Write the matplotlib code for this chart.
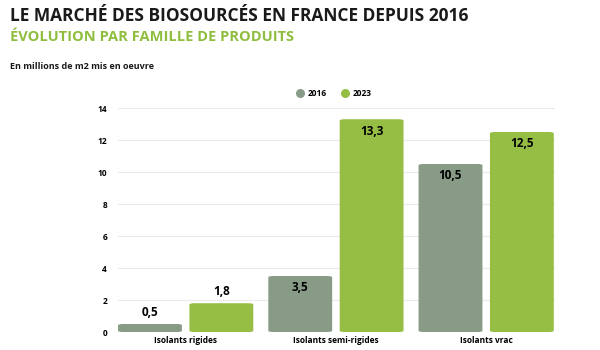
import matplotlib
matplotlib.use("Agg")
import matplotlib.pyplot as plt
from matplotlib.patches import FancyBboxPatch
from matplotlib.lines import Line2D
import numpy as np

categories = ["Isolants rigides", "Isolants semi-rigides", "Isolants vrac"]
series_names = ["2016", "2023"]
values_2016 = [0.5, 3.5, 10.5]
values_2023 = [1.8, 13.3, 12.5]
yticks = [0, 2, 4, 6, 8, 10, 12, 14]

colors = ["#879b87", "#96be45"]
green_title = "#8fbe3f"

plt.rcParams['font.family'] = ['Open Sans', 'DejaVu Sans']

fig = plt.figure(figsize=(6, 3.5), dpi=100)
ax = fig.add_axes([0.197, 0.0514, 0.728, 0.64])

x = np.arange(len(categories))
w = 0.425
off = 0.2375
for vals, name, col, sgn in [(values_2016, series_names[0], colors[0], -1),
                             (values_2023, series_names[1], colors[1], 1)]:
    bars = ax.bar(x + sgn * off, vals, w, color=col, label=name)
    for b, v in zip(bars, vals):
        b.set_visible(False)
        p = FancyBboxPatch((b.get_x(), 0), b.get_width(), v,
                           boxstyle="round,pad=0,rounding_size=0.035",
                           mutation_aspect=14 / 2.24 / 2.9,
                           facecolor=col, edgecolor="none", zorder=2)
        ax.add_patch(p)
        txt = f"{v:.1f}".replace(".", ",")
        cx = b.get_x() + b.get_width() / 2
        dy = 8.5 if v < 3 else -8.5
        ax.annotate(txt, (cx, v), xytext=(0, dy), textcoords="offset points",
                    ha="center", va="center", fontsize=8.5, fontweight="bold", color="black")

ax.set_xlim(-0.449, 2.458)
ax.set_ylim(0, 14)
ax.set_yticks(yticks)
ax.set_yticklabels([str(t) for t in yticks], fontsize=6, fontweight="bold")
ax.set_xticks(x)
ax.set_xticklabels(categories, fontsize=6, fontweight="bold")
ax.tick_params(axis="both", length=0)
ax.tick_params(axis="y", pad=8)
ax.tick_params(axis="x", pad=3)
for s in ax.spines.values():
    s.set_visible(False)
ax.yaxis.grid(True, color="#ebebeb", linewidth=0.8, zorder=0)
ax.set_axisbelow(True)

handles = [Line2D([0], [0], marker="o", linestyle="none", markersize=6.5,
                  markerfacecolor=c, markeredgecolor="none") for c in colors]
leg = fig.legend(handles, series_names, loc="center", bbox_to_anchor=(0.555, 0.734),
                 ncol=2, frameon=False, prop={"size": 6, "weight": "bold"},
                 handletextpad=0.3, columnspacing=1.6, handlelength=1.2)

fig.text(0.017, 0.955, "LE MARCHÉ DES BIOSOURCÉS EN FRANCE DEPUIS 2016",
         fontsize=12.5, fontweight="bold", color="#1a1a1a", va="center", ha="left")
fig.text(0.017, 0.893, "ÉVOLUTION PAR FAMILLE DE PRODUITS",
         fontsize=10.5, fontweight="bold", color=green_title, va="center", ha="left")
fig.text(0.017, 0.811, "En millions de m2 mis en oeuvre",
         fontsize=6.5, fontweight="bold", color="#1a1a1a", va="center", ha="left")

fig.savefig("out.png", dpi=100)
